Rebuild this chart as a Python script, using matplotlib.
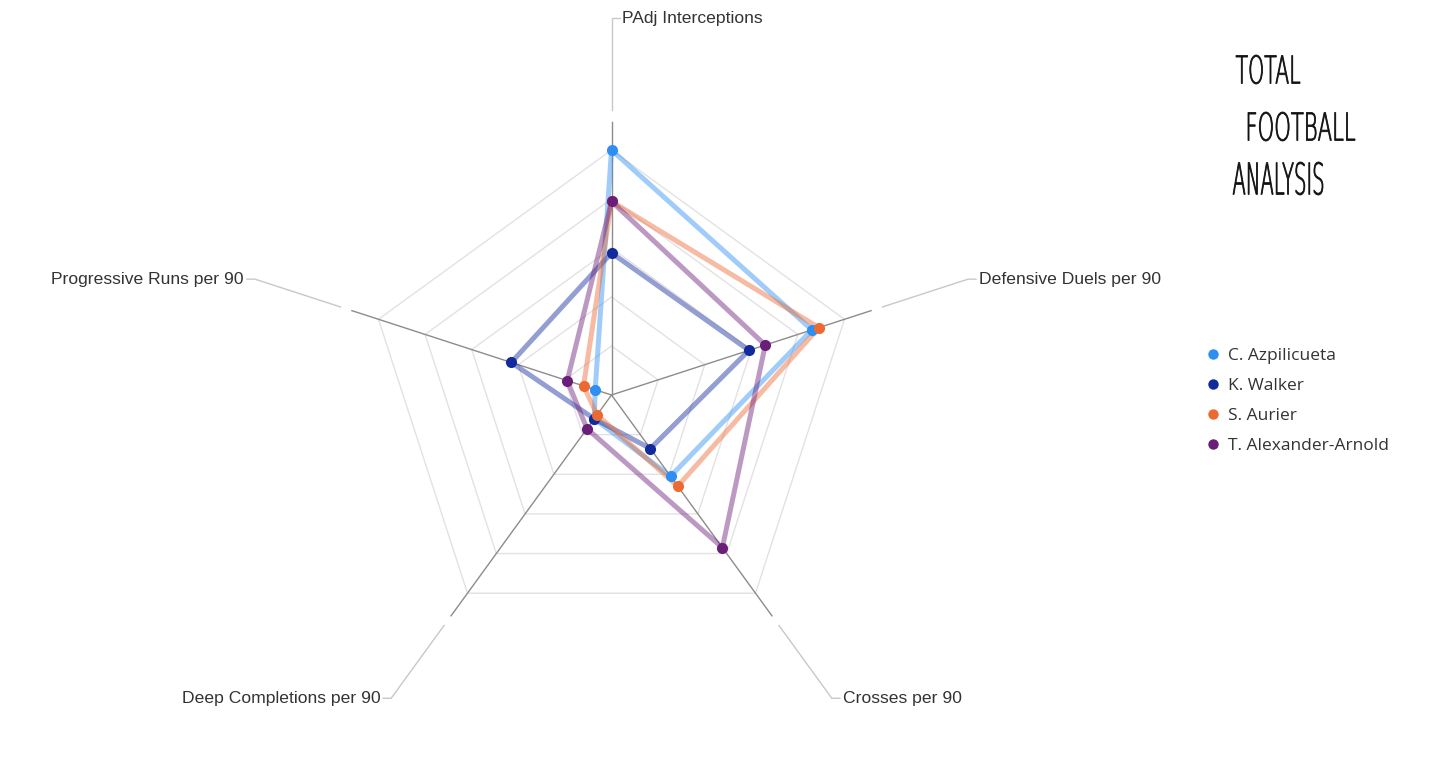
import numpy as np
import matplotlib.pyplot as plt
from matplotlib.lines import Line2D
from matplotlib.textpath import TextPath
from matplotlib.patches import PathPatch
from matplotlib.transforms import Affine2D
from matplotlib.font_manager import FontProperties

# radar data, normalised to the outer ring (1.0)
categories = ['PAdj Interceptions', 'Defensive Duels per 90', 'Crosses per 90',
              'Deep Completions per 90', 'Progressive Runs per 90']
players = ['C. Azpilicueta', 'K. Walker', 'S. Aurier', 'T. Alexander-Arnold']
azpilicueta = [1.00, 0.86, 0.41, 0.12, 0.07]
walker = [0.58, 0.59, 0.27, 0.12, 0.43]
aurier = [0.79, 0.89, 0.46, 0.10, 0.12]
alexander_arnold = [0.79, 0.66, 0.77, 0.17, 0.19]
colors = ['#2E8FF2', '#112A9C', '#EC6A32', '#6A1E78']
ring_levels = [0.2, 0.4, 0.6, 0.8, 1.0]

W, H = 1434, 766
px = 245.0          # pixels per unit radius
cx, cy = 611.5, 395  # centre, from top-left

fig = plt.figure(figsize=(W / 100, H / 100), dpi=100)
ax = fig.add_axes([0, 0, 1, 1])
ax.set_xlim(-cx / px, (W - cx) / px)
ax.set_ylim(-(H - cy) / px, cy / px)
ax.axis('off')

n = len(categories)
ang = np.deg2rad(90 - 72 * np.arange(n))
ca, sa = np.cos(ang), np.sin(ang)

# grid rings
for r in ring_levels:
    ax.plot(np.append(r * ca, r * ca[0]), np.append(r * sa, r * sa[0]),
            color='#e2e2e2', lw=1, zorder=1)

# spokes + leader lines + labels
for i, lab in enumerate(categories):
    ax.plot([0, 1.114 * ca[i]], [0, 1.114 * sa[i]], color='#8c8c8c', lw=1, zorder=2)
    r0, r1 = 1.163, 1.53
    x1, y1 = r1 * ca[i], r1 * sa[i]
    if i == 0:
        x1, y1 = 0, 377 / px
    side = 1 if x1 >= -0.01 else -1
    tick = 8 / px
    ax.plot([r0 * ca[i], x1, x1 + side * tick], [r0 * sa[i], y1, y1],
            color='#c8c8c8', lw=1, zorder=2)
    ax.text(x1 + side * (tick + 3 / px), y1, lab, fontsize=12.6,
            family='Liberation Sans', color='#333333',
            ha='left' if side > 0 else 'right', va='center')

series = [azpilicueta, walker, aurier, alexander_arnold]
for vals, col in zip(series, colors):
    v = np.array(vals)
    x, y = v * ca, v * sa
    ax.plot(np.append(x, x[0]), np.append(y, y[0]), color=col, lw=3.6,
            alpha=0.45, solid_joinstyle='miter', zorder=3)
for vals, col in zip(series, colors):
    v = np.array(vals)
    ax.plot(v * ca, v * sa, 'o', color=col, ms=8, mec='none', zorder=4)

handles = [Line2D([], [], marker='o', ls='none', color=c, ms=7.5, mec='none')
           for c in colors]
leg = ax.legend(handles, players, loc='upper left',
                bbox_to_anchor=(1201 / W, 1 - 341 / H), frameon=False,
                prop=FontProperties(family='Open Sans', size=12.5),
                handlelength=0.6, handletextpad=0.55, labelspacing=0.8,
                borderaxespad=0)
for t in leg.get_texts():
    t.set_color('#333333')

# logo
lax = fig.add_axes([0, 0, 1, 1])
lax.set_xlim(0, W)
lax.set_ylim(0, H)
lax.axis('off')


def logo_word(word, x0, x1, top, bottom):
    tp = TextPath((0, 0), word, size=1,
                  prop=FontProperties(family='DejaVu Sans', weight='light'))
    bb = tp.get_extents()
    tr = (Affine2D().translate(-bb.x0, -bb.y0)
          .scale((x1 - x0) / bb.width, (bottom - top) / bb.height)
          .translate(x0, H - bottom))
    lax.add_patch(PathPatch(tr.transform_path(tp), fc='#111111', ec='#111111', lw=0.6))


logo_word('TOTAL', 1236, 1300, 55, 84)
logo_word('FOOTBALL', 1248, 1355, 112, 141)
logo_word('ANALYSIS', 1233, 1323, 162, 195)

fig.savefig('out.png', dpi=100, facecolor='white')
